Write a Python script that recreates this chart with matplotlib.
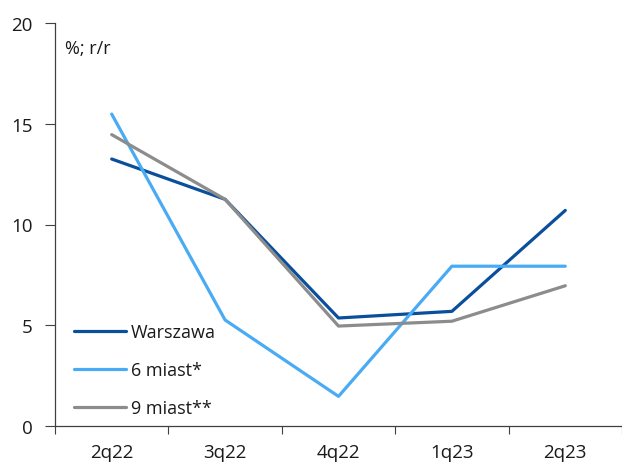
import matplotlib
matplotlib.use("Agg")
import matplotlib.pyplot as plt
import numpy as np

quarters = ["2q22", "3q22", "4q22", "1q23", "2q23"]
warszawa = [13.25, 11.25, 5.36, 5.69, 10.7]
miast6 = [15.48, 5.26, 1.47, 7.93, 7.93]
miast9 = [14.46, 11.25, 4.96, 5.2, 6.96]
yticks = [0, 5, 10, 15, 20]

plt.rcParams["font.family"] = ["Open Sans", "DejaVu Sans"]

fig = plt.figure(figsize=(6.22, 4.64), dpi=100)
ax = fig.add_axes([55 / 622, 1 - 427 / 464, 567 / 622, 403 / 464])

x = np.arange(len(quarters))
ax.plot(x, warszawa, color="#0a4f9c", lw=2.3, label="Warszawa", solid_capstyle="round")
ax.plot(x, miast6, color="#4aabf5", lw=2.3, label="6 miast*", solid_capstyle="round")
ax.plot(x, miast9, color="#8c8c8c", lw=2.3, label="9 miast**", solid_capstyle="round")

ax.set_xlim(-0.5, len(quarters) - 0.5)
ax.set_ylim(0, 20)
ax.set_yticks(yticks)
ax.set_yticklabels([str(v) for v in yticks])

# category boundaries as ticks, labels at category centres
ax.set_xticks(np.arange(len(quarters) + 1) - 0.5)
ax.set_xticklabels([])
ax.set_xticks(x, minor=True)
ax.set_xticklabels(quarters, minor=True)
ax.tick_params(axis="x", which="major", length=6, color="#404040", width=0.8)
ax.tick_params(axis="x", which="minor", length=0, pad=12, labelsize=13.5, labelcolor="#1a1a1a")
ax.tick_params(axis="y", length=7, color="#404040", width=0.8, pad=9, labelsize=13.5, labelcolor="#1a1a1a")

for s in ["top", "right"]:
    ax.spines[s].set_visible(False)
for s in ["left", "bottom"]:
    ax.spines[s].set_color("#404040")
    ax.spines[s].set_linewidth(0.9)

ax.text(0.018, 0.96, "%; r/r", transform=ax.transAxes, fontsize=13, color="#1a1a1a", va="top", ha="left")

leg = ax.legend(loc="upper left", bbox_to_anchor=(0.033, 0.255), frameon=False,
                fontsize=13, handlelength=2.9, handletextpad=0.28, labelspacing=1.1,
                borderpad=0, borderaxespad=0)
for t in leg.get_texts():
    t.set_color("#1a1a1a")

fig.savefig("out.png", dpi=100)
